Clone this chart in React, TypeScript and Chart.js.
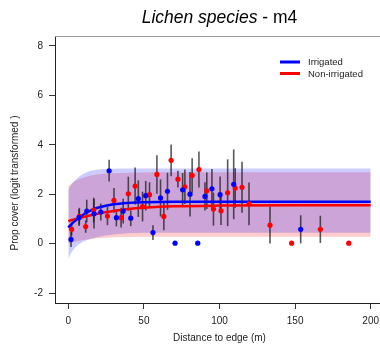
import React, { useEffect, useRef } from "react";
import { Chart, registerables } from "chart.js";

Chart.register(...registerables);

const xTicks = [0, 50, 100, 150, 200];
const yTicks = [-2, 0, 2, 4, 6, 8];

// Irrigated (blue) observations: distance, logit cover, half error bar
const irrigatedDist = [1.8, 7.1, 12.2, 17, 21.5, 27, 31.8, 36.3, 41.3, 46.3, 51.2, 56, 61, 65.6, 70.6, 75.6, 80.5, 85.6, 90.4, 95, 100.4, 109.4, 153.7];
const irrigatedCover = [0.17, 1.05, 1.32, 1.21, 1.28, 2.95, 1.05, 1.32, 1.03, 1.82, 1.94, 0.45, 1.85, 2.12, 0.02, 2.18, 2.0, 0.02, 1.91, 2.22, 1.98, 2.4, 0.58];
const irrigatedErr = [0.3, 0.34, 0.46, 0.6, 0.34, 0.44, 0.35, 0.5, 0.32, 0.74, 0.6, 0.3, 0.75, 0.75, 0, 0.68, 0.9, 0, 0.57, 0.8, 0.74, 1.41, 0.57];

// Non-irrigated (red) observations
const nonIrrDist = [2.2, 7.3, 11.5, 16.8, 25.9, 30.2, 34.9, 39.7, 44.2, 49.1, 53.7, 58.6, 63.2, 68, 72.5, 77.1, 81.9, 86.4, 91.6, 96, 101, 105.4, 110.4, 114.9, 119.5, 133.4, 147.7, 166.7, 185.5];
const nonIrrCover = [0.58, 1.11, 0.69, 1.36, 1.12, 1.75, 1.05, 2.02, 2.33, 1.5, 1.98, 2.8, 1.1, 3.37, 2.61, 2.3, 2.76, 3.0, 2.14, 1.4, 1.33, 2.06, 2.25, 2.28, 1.61, 0.75, 0.02, 0.58, 0.02];
const nonIrrErr = [0.25, 0.34, 0.25, 0.5, 0.37, 0.5, 0.4, 0.69, 0.75, 0.6, 0.5, 0.78, 0.56, 0.64, 0.34, 0.7, 0.7, 0.73, 0.74, 0.67, 0.57, 1.35, 0.8, 1.03, 0.86, 0.74, 0, 0.55, 0];

// Fitted curves and bands
const fitDist = [0, 2.5, 5, 7.5, 10, 15, 20, 30, 40, 50, 70, 100, 150, 200];
const irrigatedFit = [0.65, 0.82, 0.95, 1.07, 1.18, 1.35, 1.46, 1.59, 1.65, 1.68, 1.7, 1.7, 1.7, 1.7];
const irrigatedUpper = [2.19, 2.42, 2.6, 2.73, 2.83, 2.95, 3.0, 3.03, 3.04, 3.04, 3.04, 3.04, 3.04, 3.04];
const irrigatedLower = [-0.6, -0.32, -0.13, 0.0, 0.09, 0.2, 0.28, 0.37, 0.42, 0.44, 0.44, 0.44, 0.44, 0.44];
const nonIrrFit = [0.91, 0.96, 1.0, 1.04, 1.08, 1.15, 1.22, 1.32, 1.4, 1.45, 1.51, 1.54, 1.55, 1.55];
const nonIrrUpper = [2.33, 2.45, 2.55, 2.62, 2.68, 2.76, 2.81, 2.85, 2.87, 2.88, 2.89, 2.89, 2.89, 2.89];
const nonIrrLower = [0.0, 0.05, 0.09, 0.12, 0.15, 0.19, 0.22, 0.26, 0.27, 0.28, 0.28, 0.28, 0.28, 0.28];

const legendLabels = ["Irrigated", "Non-irrigated"];

const pts = (xs: number[], ys: number[]) => xs.map((x, i) => ({ x, y: ys[i] }));

const FONT = "'Liberation Sans', Arial, Helvetica, sans-serif";
const BLUE = "#0000ff";
const RED = "#ff0000";

export default function App() {
  const ref = useRef<HTMLCanvasElement>(null);

  useEffect(() => {
    const canvas = ref.current;
    if (!canvas) return;

    const decor = {
      id: "decor",
      beforeDatasetDraw(chart: any, args: any) {
        if (args.index !== 3) return;
        const { ctx, scales } = chart;
        const x = scales.x;
        const y = scales.y;
        ctx.save();
        ctx.strokeStyle = "rgba(25,25,25,0.72)";
        ctx.lineWidth = 1.6;
        const draw = (xs: number[], ys: number[], es: number[]) => {
          xs.forEach((d, i) => {
            if (!es[i]) return;
            const px = x.getPixelForValue(d);
            ctx.beginPath();
            ctx.moveTo(px, y.getPixelForValue(ys[i] - es[i]));
            ctx.lineTo(px, y.getPixelForValue(ys[i] + es[i]));
            ctx.stroke();
          });
        };
        draw(nonIrrDist, nonIrrCover, nonIrrErr);
        draw(irrigatedDist, irrigatedCover, irrigatedErr);
        ctx.restore();
      },
      afterDraw(chart: any) {
        const { ctx, chartArea: ca } = chart;
        ctx.save();
        // top frame line
        ctx.strokeStyle = "#9a9a9a";
        ctx.lineWidth = 1;
        ctx.beginPath();
        ctx.moveTo(ca.left, Math.round(ca.top) + 0.5);
        ctx.lineTo(ca.right, Math.round(ca.top) + 0.5);
        ctx.stroke();

        // title
        const t1 = "Lichen species";
        const t2 = " - m4";
        ctx.fillStyle = "#000";
        ctx.textBaseline = "middle";
        ctx.textAlign = "left";
        ctx.font = `italic 17.5px ${FONT}`;
        const w1 = ctx.measureText(t1).width;
        ctx.font = `17.5px ${FONT}`;
        const w2 = ctx.measureText(t2).width;
        const cx = (ca.left + ca.right) / 2;
        const sx = cx - (w1 + w2) / 2;
        ctx.font = `italic 17.5px ${FONT}`;
        ctx.fillText(t1, sx, 18);
        ctx.font = `17.5px ${FONT}`;
        ctx.fillText(t2, sx + w1, 18);

        // y axis title
        ctx.save();
        ctx.translate(15, 183);
        ctx.rotate(-Math.PI / 2);
        ctx.font = `10px ${FONT}`;
        ctx.fillStyle = "#222";
        ctx.textAlign = "center";
        ctx.textBaseline = "middle";
        ctx.fillText("Prop cover (logit transformed )", 0, 0);
        ctx.restore();

        // x axis title
        ctx.font = `10px ${FONT}`;
        ctx.fillStyle = "#222";
        ctx.textAlign = "center";
        ctx.textBaseline = "middle";
        ctx.fillText("Distance to edge (m)", cx, 338);

        // legend
        const colors = [BLUE, RED];
        const ys = [62, 73.5];
        ctx.lineWidth = 3;
        ctx.textAlign = "left";
        ctx.font = `9.5px ${FONT}`;
        legendLabels.forEach((lab, i) => {
          ctx.strokeStyle = colors[i];
          ctx.beginPath();
          ctx.moveTo(280, ys[i]);
          ctx.lineTo(300, ys[i]);
          ctx.stroke();
          ctx.fillStyle = "#222";
          ctx.fillText(lab, 308, ys[i] + 0.5);
        });
        ctx.restore();
      },
    };

    const band = (data: any, color: string, fill: any) => ({
      type: "line",
      data,
      borderWidth: 0,
      borderColor: "rgba(0,0,0,0)",
      backgroundColor: color,
      pointRadius: 0,
      fill,
      cubicInterpolationMode: "monotone",
    });

    const chart = new Chart(canvas, {
      type: "line",
      data: {
        datasets: [
          {
            data: pts(irrigatedDist, irrigatedCover),
            showLine: false,
            pointRadius: 2.6,
            pointBorderWidth: 0,
            pointBackgroundColor: BLUE,
            borderColor: BLUE,
          },
          {
            data: pts(nonIrrDist, nonIrrCover),
            showLine: false,
            pointRadius: 2.6,
            pointBorderWidth: 0,
            pointBackgroundColor: RED,
            borderColor: RED,
          },
          {
            data: pts(fitDist, irrigatedFit),
            borderColor: BLUE,
            borderWidth: 2.5,
            pointRadius: 0,
            fill: false,
            cubicInterpolationMode: "monotone",
          },
          {
            data: pts(fitDist, nonIrrFit),
            borderColor: RED,
            borderWidth: 2.5,
            pointRadius: 0,
            fill: false,
            cubicInterpolationMode: "monotone",
          },
          band(pts(fitDist, irrigatedUpper), "rgba(0,0,255,0.2)", 5),
          band(pts(fitDist, irrigatedLower), "rgba(0,0,0,0)", false),
          band(pts(fitDist, nonIrrUpper), "rgba(255,0,0,0.2)", 7),
          band(pts(fitDist, nonIrrLower), "rgba(0,0,0,0)", false),
        ] as any,
      },
      options: {
        animation: false,
        responsive: false,
        events: [],
        layout: { padding: { left: 0, top: 36, right: 6, bottom: 0 } },
        plugins: {
          legend: { display: false },
          title: { display: false },
          tooltip: { enabled: false },
        },
        scales: {
          x: {
            type: "linear",
            min: -8.8,
            max: 208.8,
            afterBuildTicks: (s: any) => {
              s.ticks = xTicks.map((v) => ({ value: v }));
            },
            afterFit: (s: any) => {
              s.height = 51;
            },
            grid: {
              drawOnChartArea: false,
              drawTicks: true,
              tickLength: 6,
              tickColor: "#333",
            },
            border: { display: true, color: "#222", width: 1 },
            ticks: {
              color: "#222",
              font: { family: FONT, size: 10 },
              padding: 6,
              maxRotation: 0,
            },
          },
          y: {
            type: "linear",
            min: -2.4,
            max: 8.4,
            afterBuildTicks: (s: any) => {
              s.ticks = yTicks.map((v) => ({ value: v }));
            },
            afterFit: (s: any) => {
              s.width = 55;
            },
            grid: {
              drawOnChartArea: false,
              drawTicks: true,
              tickLength: 6,
              tickColor: "#333",
            },
            border: { display: true, color: "#222", width: 1 },
            ticks: {
              color: "#222",
              font: { family: FONT, size: 10 },
              padding: 6,
            },
          },
        },
      } as any,
      plugins: [decor as any],
    });

    return () => chart.destroy();
  }, []);

  return (
    <div style={{ position: "fixed", left: 0, top: 0, width: 390, height: 354, background: "#fff" }}>
      <canvas ref={ref} width={390} height={354} style={{ display: "block" }} />
    </div>
  );
}
